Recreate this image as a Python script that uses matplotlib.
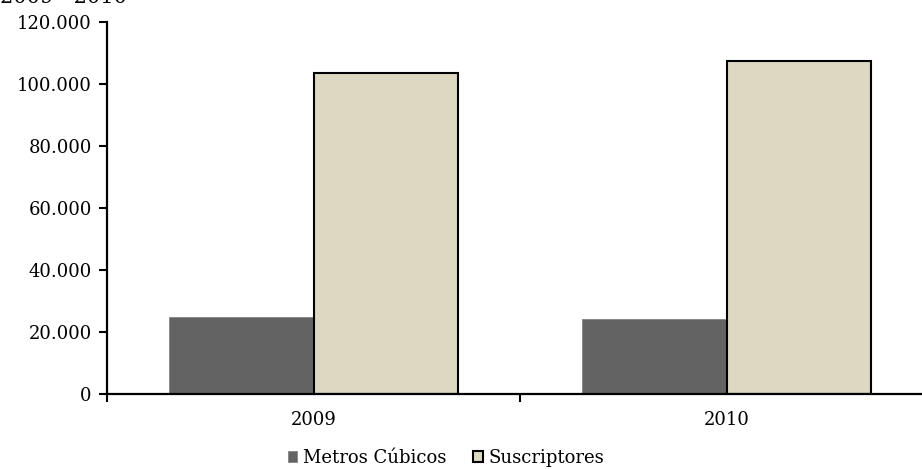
import numpy as np
import matplotlib.pyplot as plt
from matplotlib.ticker import FuncFormatter

# data
anios = ['2009', '2010']
metros = [24800, 24200]
suscriptores = [103500, 107500]
series = ['Metros Cúbicos', 'Suscriptores']
tickerSumbuY = np.arange(0, 120001, 20000)

plt.rcParams['font.family'] = ['DejaVu Serif']
plt.rcParams['font.size'] = 13

fig = plt.figure(figsize=(9.22, 4.69), dpi=100)
ax = fig.add_axes([107/922, 1-394/469, 826/922, 372/469])

ind = np.arange(len(anios))
width = 0.35
ax.bar(ind - width/2, metros, width, color='#636363', edgecolor='#7a7a7a',
       linewidth=0.5, label=series[0])
ax.bar(ind + width/2, suscriptores, width, color='#ddd8c1', edgecolor='black',
       linewidth=1.5, label=series[1])

ax.set_xlim(-0.5, len(anios) - 0.5)
ax.set_ylim(0, 120000)
ax.set_yticks(tickerSumbuY)
ax.yaxis.set_major_formatter(FuncFormatter(lambda x, pos: '{:,.0f}'.format(x).replace(',', '.')))

# ticks at category boundaries, labels at centers
ax.set_xticks(np.arange(-0.5, len(anios), 1.0))
ax.set_xticklabels([])
ax.set_xticks(ind, minor=True)
ax.set_xticklabels(anios, minor=True)
ax.tick_params(axis='x', which='minor', length=0, pad=12)
ax.tick_params(axis='x', which='major', length=6, width=1.5, direction='out')
ax.tick_params(axis='y', length=6, width=1.5, direction='out', pad=5)

for s in ['top', 'right']:
    ax.spines[s].set_visible(False)
for s in ['left', 'bottom']:
    ax.spines[s].set_linewidth(1.6)

fig.legend(loc='center', bbox_to_anchor=(446/922, 1-458/469), ncol=2, frameon=False,
           handlelength=0.55, handleheight=0.55, handletextpad=0.3, columnspacing=1.5,
           borderaxespad=0, borderpad=0)

# cut-off title at the top
fig.text(127/922, 1-3/469, '2009 - 2010', ha='right', va='baseline', fontsize=15)

plt.savefig('out.png', dpi=100)
plt.close(fig)
